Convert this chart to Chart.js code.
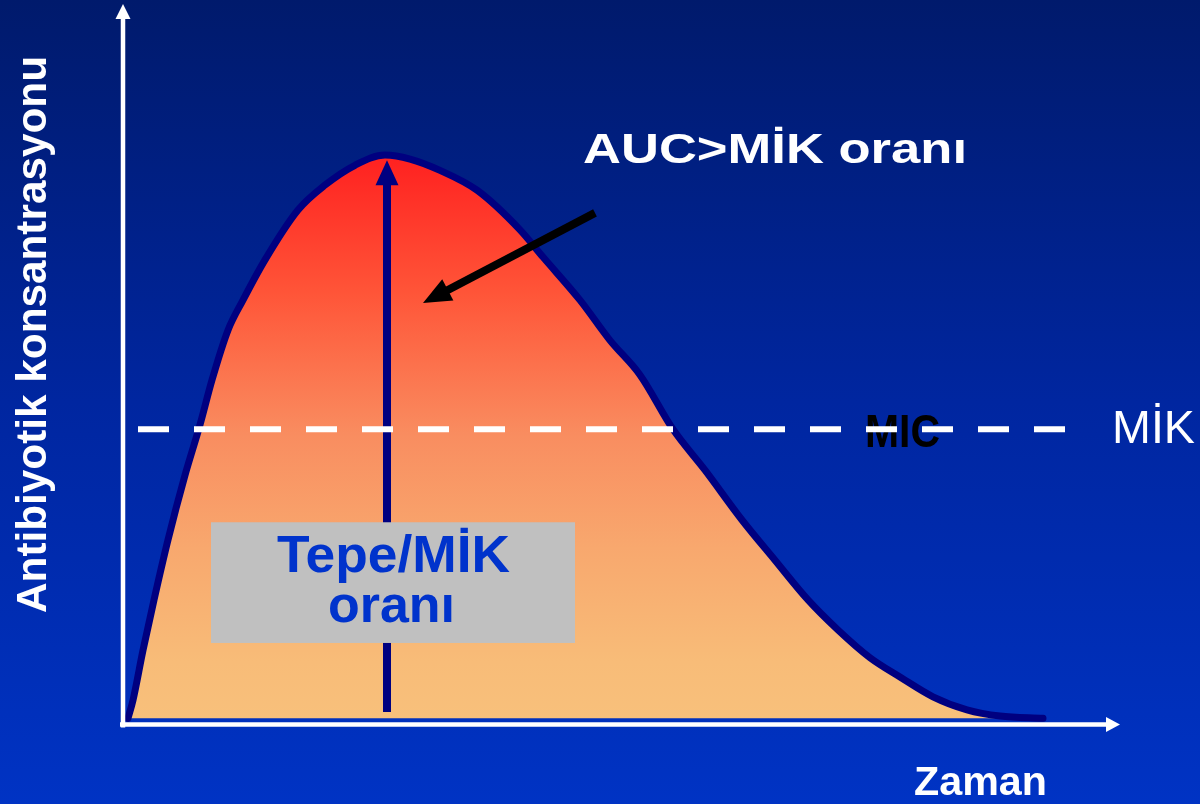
<!DOCTYPE html>
<html>
<head>
<meta charset="utf-8">
<title>AUC / MİK</title>
<script src="https://cdn.jsdelivr.net/npm/chart.js@4/dist/chart.umd.min.js"></script>
<style>
  html, body { margin: 0; padding: 0; background: #0028a0; }
  #wrap { width: 1200px; height: 804px; }
</style>
</head>
<body>
<div id="wrap"><canvas id="c" width="1200" height="804"></canvas></div>
<script>
// Zaman (arbitrary time units) and antibiotic concentration along the curve
const timePoints = [0.8, 1.3, 2.3, 3.4, 4.8, 6.5, 8.0, 9.2, 10.8, 12.3, 14.5, 17.8, 20.5, 23.5, 26.5,
  29.0, 32.0, 35.7, 40.0, 42.3, 46.0, 49.0, 52.0, 55.3, 58.5, 62.2, 65.5, 68.8, 71.8, 75.0,
  78.0, 81.3, 84.7, 88.0, 92.3];
const concentration = [0, 3.2, 12.0, 20.9, 31.5, 42.9, 51.8, 59.7, 68.5, 73.8, 80.9, 89.7, 94.1, 97.6, 99.4,
  98.7, 96.7, 93.2, 86.2, 81.4, 73.8, 66.7, 60.6, 51.0, 43.8, 35.0, 27.9, 20.9, 15.6, 10.7,
  7.3, 3.8, 1.5, 0.4, 0];
// MİK threshold and the time span of its dashed line
const micLevel = [51];
const micSpan = [1.8, 94.5];
// Peak concentration marker (time, from, to)
const peakTime = [26.7];
const peakRange = [1.1, 98.5];
// AUC pointer (tail time/conc, tip time/conc)
const aucPointer = [47.5, 89.2, 30.3, 73.3];
// Tepe/MİK box (time from, time to, conc top, conc bottom)
const ratioBox = [9.1, 45.5, 34.6, 13.3];

const labels = {
  auc: 'AUC>MİK oranı',
  ratio: ['Tepe/MİK', 'oranı'],
  micEn: 'MIC',
  micTr: 'MİK',
  xTitle: 'Zaman',
  yTitle: 'Antibiyotik konsantrasyonu'
};

const FONT = '"Liberation Sans", Arial, sans-serif';

const curve = timePoints.map((t, i) => ({ x: t, y: concentration[i] }));
const micLine = micSpan.map(t => ({ x: t, y: micLevel[0] }));

function fillGradient(ctx) {
  const chart = ctx.chart;
  const area = chart.chartArea;
  if (!area) return '#f8a06a';
  const ys = chart.scales.y;
  const top = ys.getPixelForValue(100);
  const bot = ys.getPixelForValue(0);
  const g = chart.ctx.createLinearGradient(0, top, 0, bot);
  g.addColorStop(0, '#ff1f1f');
  g.addColorStop(0.25, '#ff5538');
  g.addColorStop(0.5, '#f98d60');
  g.addColorStop(0.7, '#f8a86e');
  g.addColorStop(0.9, '#f8bc78');
  g.addColorStop(1, '#f8c07b');
  return g;
}

function drawArrow(ctx, x1, y1, x2, y2, width, headLen, headW, color) {
  const ang = Math.atan2(y2 - y1, x2 - x1);
  const bx = x2 - Math.cos(ang) * headLen;
  const by = y2 - Math.sin(ang) * headLen;
  ctx.save();
  ctx.strokeStyle = color;
  ctx.fillStyle = color;
  ctx.lineWidth = width;
  ctx.lineCap = 'butt';
  ctx.beginPath();
  ctx.moveTo(x1, y1);
  ctx.lineTo(bx + Math.cos(ang), by + Math.sin(ang));
  ctx.stroke();
  const px = -Math.sin(ang) * headW / 2;
  const py = Math.cos(ang) * headW / 2;
  ctx.beginPath();
  ctx.moveTo(x2, y2);
  ctx.lineTo(bx + px, by + py);
  ctx.lineTo(bx - px, by - py);
  ctx.closePath();
  ctx.fill();
  ctx.restore();
}

// Draw text from its left edge, squeezed or stretched horizontally to a given width
function fitText(ctx, text, font, color, left, baseline, width) {
  ctx.save();
  ctx.font = font;
  ctx.fillStyle = color;
  ctx.textAlign = 'left';
  ctx.textBaseline = 'alphabetic';
  const w = ctx.measureText(text).width;
  const s = width ? width / w : 1;
  ctx.translate(left, baseline);
  ctx.scale(s, 1);
  ctx.fillText(text, 0, 0);
  ctx.restore();
}

const decor = {
  id: 'decor',
  beforeDraw(chart) {
    const ctx = chart.ctx;
    const g = ctx.createLinearGradient(0, 0, 0, chart.height);
    g.addColorStop(0, '#001a6c');
    g.addColorStop(0.5, '#0026a0');
    g.addColorStop(1, '#0033c4');
    ctx.save();
    ctx.fillStyle = g;
    ctx.fillRect(0, 0, chart.width, chart.height);
    ctx.restore();
  },
  afterDatasetDraw(chart, args) {
    if (args.index !== 0) return;
    const ctx = chart.ctx;
    const xs = chart.scales.x, ys = chart.scales.y;
    // peak marker
    const px = xs.getPixelForValue(peakTime[0]);
    drawArrow(ctx, px, ys.getPixelForValue(peakRange[0]), px, ys.getPixelForValue(peakRange[1]),
      8, 25, 23, '#000080');
    // AUC pointer
    drawArrow(ctx, xs.getPixelForValue(aucPointer[0]), ys.getPixelForValue(aucPointer[1]),
      xs.getPixelForValue(aucPointer[2]), ys.getPixelForValue(aucPointer[3]),
      8, 28, 24, '#000000');
    // English threshold label, sits under the dashes
    const my = ys.getPixelForValue(micLevel[0]);
    fitText(ctx, labels.micEn, 'bold 46px ' + FONT, '#000000', 865, my + 18, 75);
  },
  afterDraw(chart) {
    const ctx = chart.ctx;
    const xs = chart.scales.x, ys = chart.scales.y;
    const a = chart.chartArea;

    // ratio box
    const bx1 = xs.getPixelForValue(ratioBox[0]);
    const bx2 = xs.getPixelForValue(ratioBox[1]);
    const by1 = ys.getPixelForValue(ratioBox[2]);
    const by2 = ys.getPixelForValue(ratioBox[3]);
    ctx.save();
    ctx.fillStyle = '#c0c0c0';
    ctx.fillRect(bx1, by1, bx2 - bx1, by2 - by1);
    ctx.restore();
    fitText(ctx, labels.ratio[0], 'bold 52px ' + FONT, '#0033cc', 277, 572, 233);
    fitText(ctx, labels.ratio[1], 'bold 52px ' + FONT, '#0033cc', 328, 622, 127);

    // headline
    fitText(ctx, labels.auc, 'bold 42px ' + FONT, '#ffffff', 583, 163, 384);

    // Turkish threshold label
    const my = ys.getPixelForValue(micLevel[0]);
    fitText(ctx, labels.micTr, '46px ' + FONT, '#ffffff', 1112, my + 14, 83);

    // axes with arrow heads
    const ox = a.left + 3, oy = a.bottom + 0.5;
    drawArrow(ctx, ox, oy + 3, ox, 4, 4.5, 15, 15, '#ffffff');
    drawArrow(ctx, a.left, oy, 1120, oy, 4.5, 14, 15, '#ffffff');

    // axis titles
    fitText(ctx, labels.xTitle, 'bold 40px ' + FONT, '#ffffff', 914, 795, 133);
    ctx.save();
    ctx.translate(46, 334.5);
    ctx.rotate(-Math.PI / 2);
    ctx.font = 'bold 43px ' + FONT;
    ctx.fillStyle = '#ffffff';
    ctx.textAlign = 'center';
    ctx.textBaseline = 'alphabetic';
    const w = ctx.measureText(labels.yTitle).width;
    ctx.scale(557 / w, 1);
    ctx.fillText(labels.yTitle, 0, 0);
    ctx.restore();
  }
};

new Chart(document.getElementById('c'), {
  type: 'line',
  data: {
    datasets: [
      {
        data: curve,
        borderColor: '#000080',
        borderWidth: 7,
        borderJoinStyle: 'round',
        borderCapStyle: 'round',
        backgroundColor: fillGradient,
        fill: 'origin',
        cubicInterpolationMode: 'monotone',
        pointRadius: 0,
        clip: false,
        order: 2
      },
      {
        data: micLine,
        borderColor: '#ffffff',
        borderWidth: 6,
        borderDash: [31, 25],
        borderCapStyle: 'butt',
        fill: false,
        pointRadius: 0,
        clip: false,
        order: 1
      }
    ]
  },
  options: {
    responsive: false,
    animation: false,
    events: [],
    layout: { padding: { left: 120, right: 80, top: 10, bottom: 80 } },
    plugins: { legend: { display: false }, tooltip: { enabled: false }, filler: { propagate: false } },
    scales: {
      x: { type: 'linear', min: 0, max: 100, display: false },
      y: { type: 'linear', min: -1, max: 125, display: false }
    }
  },
  plugins: [decor]
});
</script>
</body>
</html>
